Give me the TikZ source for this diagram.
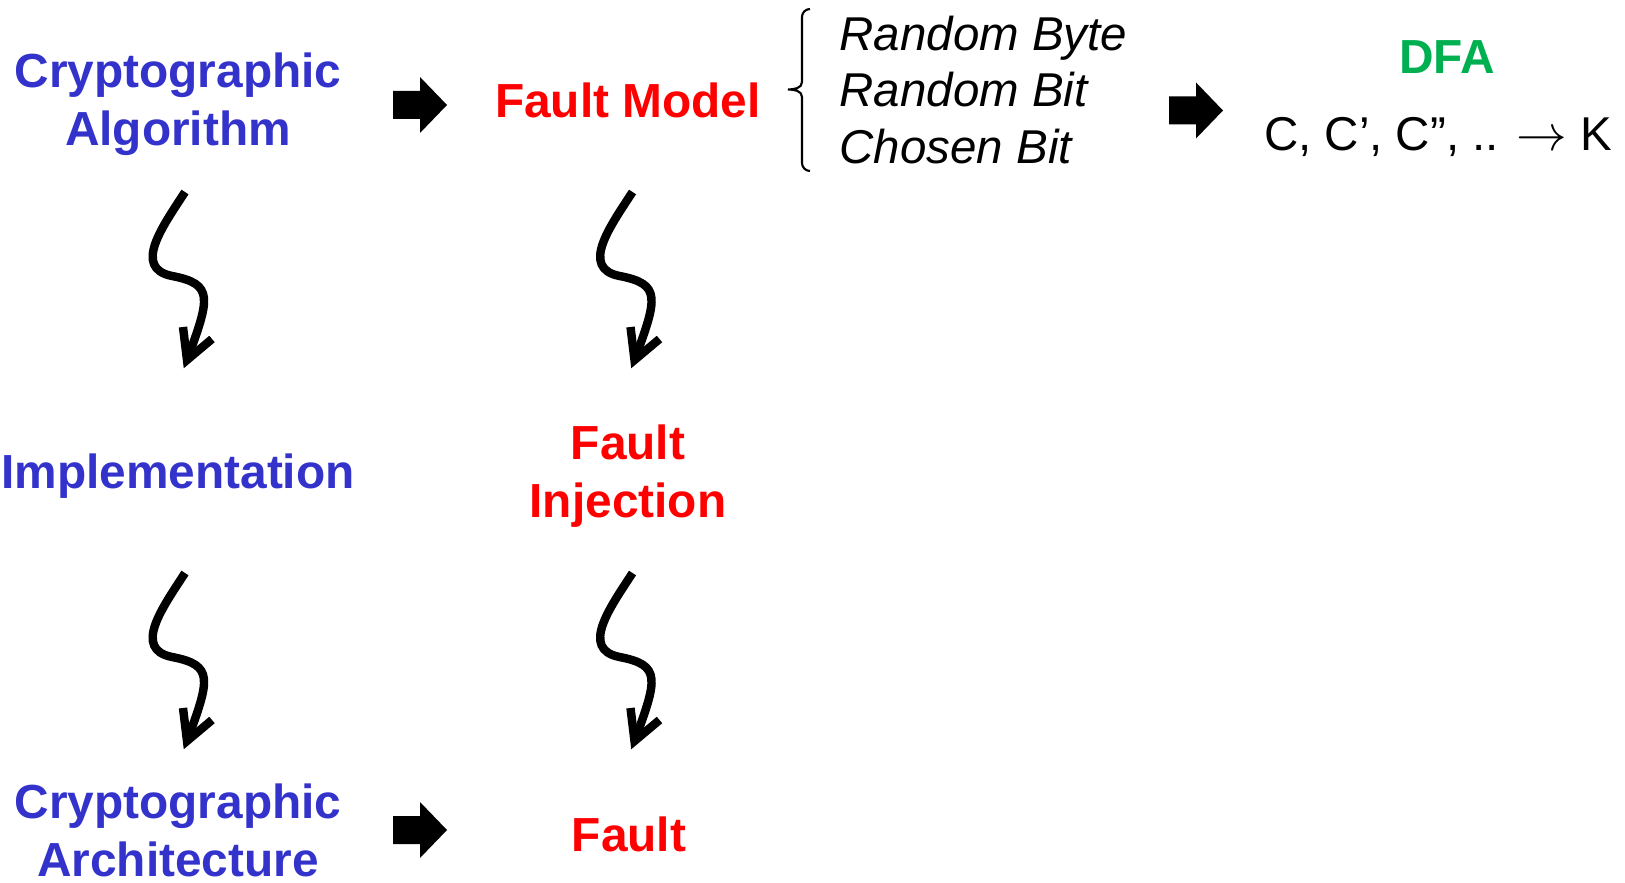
\documentclass[tikz,border=0pt]{standalone}
\usepackage{fontspec}
\setmainfont{Liberation Sans}
\definecolor{algoblue}{RGB}{51,51,204}
\definecolor{faultred}{RGB}{255,0,0}
\definecolor{dfagreen}{RGB}{0,176,80}
\begin{document}
\begin{tikzpicture}[x=0.01cm,y=-0.01cm,
  lbl/.style={inner sep=0pt,align=center,font=\fontsize{13.6}{16.5}\selectfont\bfseries},
  algo/.style={lbl,text=algoblue},
  flt/.style={lbl,text=faultred},
  mdl/.style={inner sep=0pt,anchor=base west,font=\fontsize{13.5}{16.5}\selectfont\itshape},
  pics/fatarrow/.style={code={
    \fill (-27,-14) -- (0,-14) -- (0,-28) -- (27,0) -- (0,28) -- (0,14) -- (-27,14) -- cycle;}},
  squig/.style={line width=2.4pt},
]
\useasboundingbox (0,0) rectangle (1625,883);

% left column: algorithm side
\node[algo] (alg)  at (178,104)   {Cryptographic\\Algorithm};
\node[algo] (impl) at (178,476)   {Implementation};
\node[algo] (arch) at (178,830)   {Cryptographic\\Architecture};

% middle column: fault side
\node[flt] (model) at (628,100.5) {Fault Model};
\node[flt] (inj)   at (628,476)   {Fault\\Injection};
\node[flt] (fault) at (629,834.5) {Fault};

% fault model variants
\node[mdl] (rbyte) at (839,50.5)  {Random Byte};
\node[mdl] (rbit)  at (839,107)   {Random Bit};
\node[mdl] (cbit)  at (839,164)   {Chosen Bit};
\draw[line width=0.6pt] (810,9) to[out=180,in=90] (802,17) -- (802,82)
  to[out=-90,in=0] (788,89.5) to[out=0,in=90] (802,97) -- (802,163)
  to[out=-90,in=180] (810,171);

% differential fault analysis
\node[lbl,text=dfagreen] (dfa) at (1447,57) {DFA};
\node[inner sep=0pt,font=\fontsize{13.5}{16.5}\selectfont] (ck) at (1438,137) {C, C’, C”, .. $\rightarrow$ K};

% block arrows
\coordinate (fa1) at (420,105);
\coordinate (fa2) at (1196,110.5);
\coordinate (fa3) at (420,830);
\pic at (fa1) {fatarrow};
\pic at (fa2) {fatarrow};
\pic at (fa3) {fatarrow};

% squiggly refinement arrows
\foreach \dx/\dy/\nm in {0/0/a, 447.5/0/b, 0/381/c, 447.5/381/d}{
  \begin{scope}[shift={(\dx,\dy)}]
    \coordinate (s\nm) at (185,192);
    \coordinate (t\nm) at (187,360);
    \draw[squig] (s\nm) .. controls (163,226) and (132,268) .. (172,276)
                  .. controls (214,284) and (210,298) .. (t\nm);
    \draw[squig,line join=miter] (183,327) -- (t\nm) -- (212,339);
  \end{scope}
}
\end{tikzpicture}
\end{document}
